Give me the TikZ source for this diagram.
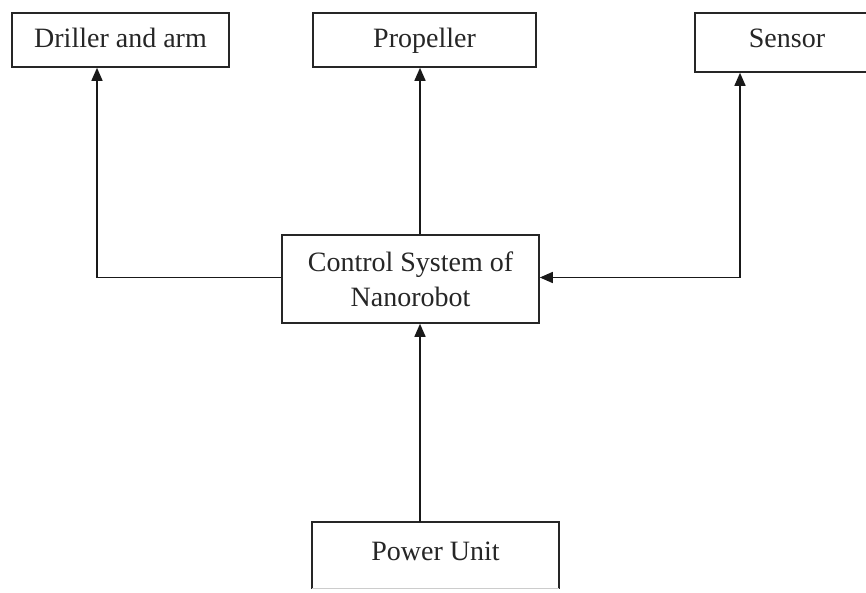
\documentclass[tikz,border=0pt]{standalone}
\usepackage{fontspec}
\setmainfont{Liberation Serif}
\usetikzlibrary{arrows.meta}
\begin{document}
\begin{tikzpicture}[x=1pt,y=-1pt,
  box/.style={draw=black!85, line width=1.6pt, inner sep=0pt, align=center,
    font=\fontsize{28}{35}\selectfont, text=black!85},
  conn/.style={draw=black!90, line width=1.5pt},
  arr/.style={conn, -{Triangle[length=13pt,width=11pt]}}]
\clip (0,0) rectangle (866,593);
\fill[white] (0,0) rectangle (866,593);
\node[box, text height=21pt, text depth=5pt, minimum width=217pt, minimum height=54pt] (drill) at (120.5,40) {Driller and arm};
\node[box, text height=21pt, text depth=5pt, minimum width=223pt, minimum height=54pt] (prop) at (424.5,40) {Propeller};
\node[box, text height=18.5pt, text depth=7.5pt, minimum width=184pt, minimum height=59pt] (sens) at (787,42.5) {Sensor};
\node[box, minimum width=257pt, minimum height=88pt] (ctrl) at (410.5,279) {Control System of\\Nanorobot};
\node[box, text height=17.5pt, text depth=8.5pt, draw=none, minimum width=245pt, minimum height=65pt] (power) at (435.5,555.5) {Power Unit};
\draw[draw=black!85, line width=1.6pt] (power.south west) -- (power.north west) -- (power.north east) -- (power.south east);
\draw[draw=black!20, line width=1pt] (power.south west) -- (power.south east);
\coordinate (cx) at (420,0);
\coordinate (dx) at (97,0);
\coordinate (sx) at (740,0);
\coordinate (ly) at (0,277.5);
\draw[arr] (ctrl.west |- ly) -| (drill.south -| dx);
\draw[arr] (ctrl.north -| cx) -- (prop.south -| cx);
\draw[conn, {Triangle[length=13pt,width=11pt]}-{Triangle[length=13pt,width=11pt]}] (sens.south -| sx) |- (ctrl.east |- ly);
\draw[arr] (power.north -| cx) -- (ctrl.south -| cx);
\end{tikzpicture}
\end{document}
